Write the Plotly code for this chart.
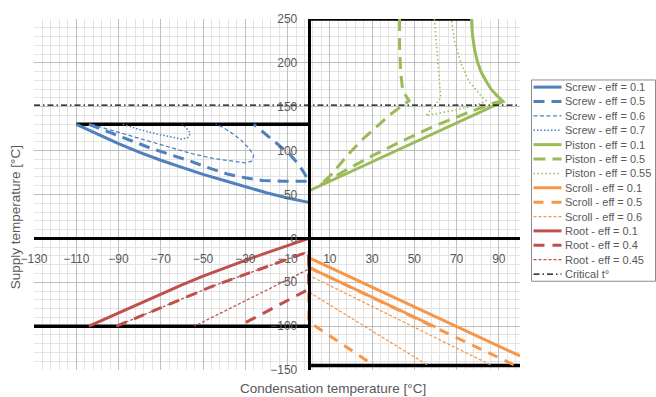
import plotly.graph_objects as go

# ---------------- data ----------------
screw_01_x = [-110, -100, -90, -80, -70, -60, -50, -40, -30, -20, -10, 0]
screw_01_y = [130, 119, 108, 98, 89, 81, 73, 66, 59, 52, 46, 41]
screw_05_x = [-104, -94, -85, -75, -65, -56, -47, -38, -30, -22, -12, 0, -2, -5, -9, -14, -20, -26]
screw_05_y = [130, 121, 112, 103, 95, 88, 80, 73, 69, 66, 65, 65, 74, 85, 96, 106, 118, 130]
screw_06_x = [-103, -90, -75, -56, -45, -35, -30, -27, -26, -28, -32, -37, -41, -44]
screw_06_y = [130, 121, 110, 97, 91, 87.5, 86, 88, 94, 102, 112, 121, 127, 130]
screw_07_x = [-88, -80, -72, -65, -60, -57, -56, -58, -60]
screw_07_y = [130, 124, 119, 115.5, 113, 115, 120, 126, 130]

piston_01_x = [0, 92, 89, 86.3, 84, 81.7, 80, 78.5, 77.5, 77]
piston_01_y = [54, 156, 163, 170, 179, 189, 200, 215, 232, 250]
piston_05_x = [43, 43, 43.5, 44.5, 47.5, 44, 38, 33, 26, 20, 15, 10, 5, 10, 17, 30, 45, 60, 75, 88, 91]
piston_05_y = [250, 220, 190, 168, 157, 151, 140, 129, 114, 99, 85, 71, 60, 67, 77, 94, 112, 128.5, 143, 154.5, 156]
piston_055_x = [59.5, 60.5, 61.5, 62.5, 62.5, 59, 55.5, 62, 69, 76, 82, 84, 82, 79, 76, 72, 69, 67.5]
piston_055_y = [250, 220, 190, 170, 160, 150, 140, 143, 146, 150, 154, 157, 161, 170, 178, 200, 225, 250]

scroll_01_x = [100, 0, 0, 60]
scroll_01_y = [-134, -22, -33, -101]
scroll_05_x = [97, 0, 0, 31]
scroll_05_y = [-144, -33, -95, -145]
scroll_06_x = [86, 0, 0, 56]
scroll_06_y = [-144, -42, -61, -144]

root_01_x = [0, -10, -20, -30, -40, -50, -60, -70, -80, -90, -104]
root_01_y = [0, -8, -16.5, -25, -34, -43, -53, -63.5, -74, -85, -100]
root_04_x = [-91, -46, 0, 0, -33]
root_04_y = [-100, -55, -15, -58, -100]
root_045_x = [-91, -46, 0, 0, -54]
root_045_y = [-100, -55, -15, -35, -100]

critical_x = [-130, 100]
critical_y = [152, 152]

# black limit lines
limit_top_x, limit_top_y = [0, 77], [250, 250]
limit_screw_x, limit_screw_y = [-110, 0], [130, 130]
limit_root_x, limit_root_y = [-130, 0], [-100, -100]
limit_scroll_x, limit_scroll_y = [0, 100], [-145, -145]

x_range = [-130, 100]
y_range = [-150, 250]

# ---------------- styles ----------------
BLUE, GREEN, ORANGE, RED = "#4F81BD", "#9BBB59", "#F79646", "#C0504D"
series = [
    ("Screw - eff = 0.1", screw_01_x, screw_01_y, BLUE, 3, "solid"),
    ("Screw - eff = 0.5", screw_05_x, screw_05_y, BLUE, 3, "11px,7px"),
    ("Screw - eff = 0.6", screw_06_x, screw_06_y, BLUE, 1.25, "4px,2.5px"),
    ("Screw - eff = 0.7", screw_07_x, screw_07_y, BLUE, 1.5, "1.5px,2px"),
    ("Piston - eff = 0.1", piston_01_x, piston_01_y, GREEN, 3, "solid"),
    ("Piston - eff = 0.5", piston_05_x, piston_05_y, GREEN, 3, "12px,7px"),
    ("Piston - eff = 0.55", piston_055_x, piston_055_y, GREEN, 1.5, "1.5px,2.5px"),
    ("Scroll - eff = 0.1", scroll_01_x, scroll_01_y, ORANGE, 3, "solid"),
    ("Scroll - eff = 0.5", scroll_05_x, scroll_05_y, ORANGE, 3, "10px,8px"),
    ("Scroll - eff = 0.6", scroll_06_x, scroll_06_y, ORANGE, 1.25, "3px,2px"),
    ("Root - eff = 0.1", root_01_x, root_01_y, RED, 3, "solid"),
    ("Root - eff = 0.4", root_04_x, root_04_y, RED, 3, "11px,8px"),
    ("Root - eff = 0.45", root_045_x, root_045_y, RED, 1.25, "3px,2px"),
    ("Critical t°", critical_x, critical_y, "#000000", 1.25, "6px,3px,1.5px,3px"),
]

W, H = 656, 397
L, R, T, B = 34, 136, 16, 27
PW, PH = W - L - R, H - T - B


def px_x(px):
    return (px - L) / PW


def px_y(py):
    return (H - B - py) / PH


fig = go.Figure()

for lx, ly in [(limit_top_x, limit_top_y), (limit_screw_x, limit_screw_y),
               (limit_root_x, limit_root_y), (limit_scroll_x, limit_scroll_y)]:
    fig.add_trace(go.Scatter(x=lx, y=ly, mode="lines", showlegend=False,
                             line=dict(color="#000000", width=3.5), hoverinfo="skip"))

for name, xs, ys, col, w, dash in series:
    fig.add_trace(go.Scatter(x=xs, y=ys, mode="lines", name=name, showlegend=False,
                             line=dict(color=col, width=w, dash=dash)))

FONT = "Liberation Sans, Arial, sans-serif"
GRAY_TXT = "#595959"

axis_common = dict(showgrid=True, gridcolor="#bfbfbf", gridwidth=1, zeroline=False,
                   showline=True, linecolor="#000000", ticks="",
                   tickfont=dict(family=FONT, size=12, color=GRAY_TXT), anchor="free")

fig.update_layout(
    width=W, height=H,
    margin=dict(l=L, r=R, t=T, b=B, pad=0),
    paper_bgcolor="white", plot_bgcolor="white",
    showlegend=False,
    font=dict(family=FONT, color=GRAY_TXT),
    xaxis=dict(range=x_range, tick0=-130, dtick=20, linewidth=2.5,
               position=(0 - y_range[0]) / (y_range[1] - y_range[0]),
               ticklabelstandoff=8,
               minor=dict(tick0=-130, dtick=4, showgrid=True, gridcolor="#e4e4e4", gridwidth=1),
               **axis_common),
    yaxis=dict(range=y_range, tick0=-150, dtick=50, linewidth=3,
               position=(0 - x_range[0]) / (x_range[1] - x_range[0]),
               ticklabelstandoff=8,
               minor=dict(tick0=-150, dtick=10, showgrid=True, gridcolor="#e4e4e4", gridwidth=1),
               **axis_common),
)

annotations = [
    dict(text="Supply temperature [°C]", x=px_x(15), y=px_y(216), xref="paper", yref="paper",
         textangle=-90, showarrow=False, xanchor="center", yanchor="middle",
         font=dict(family=FONT, size=13.5, color=GRAY_TXT)),
    dict(text="Condensation temperature [°C]", x=px_x(333), y=px_y(389), xref="paper", yref="paper",
         showarrow=False, xanchor="center", yanchor="middle",
         font=dict(family=FONT, size=13.5, color=GRAY_TXT)),
]

# manual legend (compact rows like the original)
shapes = [dict(type="rect", xref="paper", yref="paper", x0=px_x(531.5), x1=px_x(655.5),
               y0=px_y(77.5), y1=px_y(280.5), line=dict(color="#8c8c8c", width=1),
               fillcolor="white", layer="above")]
row0, step = 84.7, 14.5
for i, (name, xs, ys, col, w, dash) in enumerate(series):
    cy = row0 + i * step
    shapes.append(dict(type="line", xref="paper", yref="paper", x0=px_x(533.5), x1=px_x(561.5),
                       y0=px_y(cy), y1=px_y(cy), line=dict(color=col, width=w, dash=dash),
                       layer="above"))
    annotations.append(dict(text=name, x=px_x(562.5), y=px_y(cy), xref="paper", yref="paper",
                            showarrow=False, xanchor="left", yanchor="middle",
                            font=dict(family=FONT, size=11, color=GRAY_TXT)))

fig.update_layout(shapes=shapes, annotations=annotations)
fig.write_html("out.html")
